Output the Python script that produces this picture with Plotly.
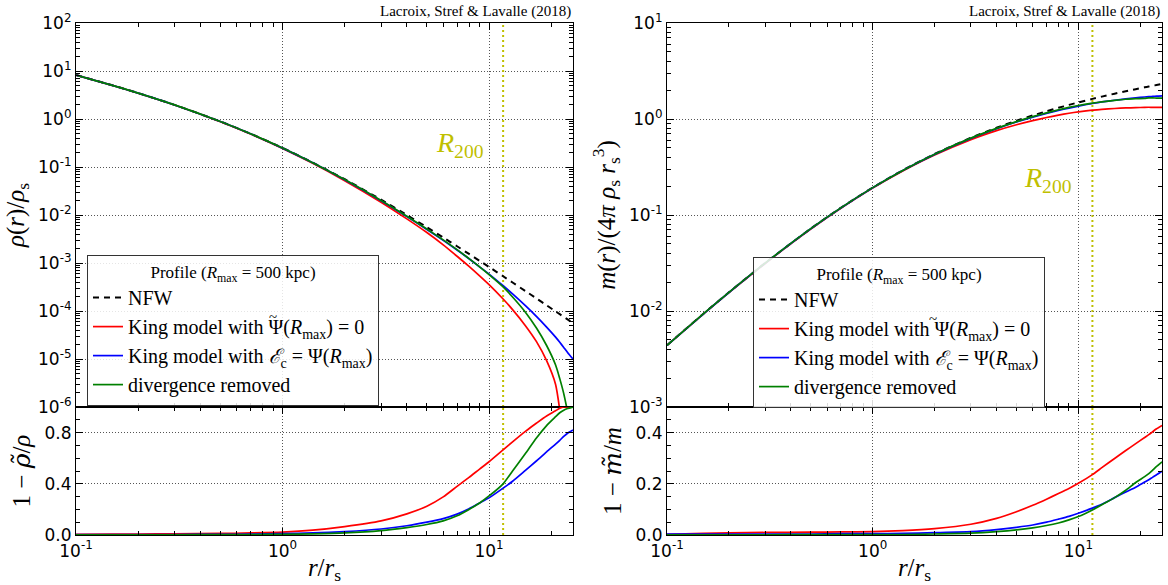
import math
import plotly.graph_objects as go

# ---------------- data ----------------
r = [0.1, 0.15, 0.2, 0.3, 0.5, 0.7, 1.0, 1.4, 2.0, 3.0, 4.0, 5.0, 6.0, 7.0, 8.0, 9.0,
     10.0, 11.7, 13.0, 15.0, 17.0, 19.0, 21.0, 22.0, 23.0, 24.0, 25.5]

rho_nfw = [8.264, 5.041, 3.472, 1.972, 0.8889, 0.4943, 0.25, 0.1240, 0.05556, 0.02083,
           0.01, 0.005556, 0.003401, 0.002232, 0.001543, 0.001111, 0.0008264, 0.0005299,
           0.0003925, 0.0002604, 0.0001816, 0.0001316, 0.0000984, 0.0000859, 0.0000755,
           0.0000667, 0.0000558]
rho_king_psi0 = [8.21, 5.006, 3.444, 1.954, 0.8782, 0.4864, 0.2443, 0.1193, 0.05184, 0.01848,
                 0.0083, 0.004306, 0.002388, 0.001384, 0.000849, 0.000539, 0.0003537,
                 0.0001775, 0.0001068, 0.0000495, 0.0000227, 0.00000921, 0.00000295,
                 0.00000086, None, None, None]
rho_king_ec = [8.239, 5.026, 3.458, 1.964, 0.8845, 0.4908, 0.2475, 0.1220, 0.05406, 0.01985,
               0.00928, 0.005, 0.002966, 0.001868, 0.001227, 0.000833, 0.000587, 0.000336,
               0.0002277, 0.0001289, 0.0000763, 0.0000461, 0.0000285, 0.0000223, 0.0000174,
               0.0000137, 0.0000100]
rho_div_removed = [8.247, 5.031, 3.465, 1.968, 0.8862, 0.4923, 0.2488, 0.1229, 0.05467, 0.02012,
                   0.00942, 0.0051, 0.003027, 0.001897, 0.001234, 0.000833, 0.000574, 0.000318,
                   0.000196, 0.0000945, 0.0000436, 0.0000191, 0.0000075, 0.0000039, 0.0000019,
                   0.0000008, None]

drho_psi0 = [0.006, 0.007, 0.008, 0.009, 0.012, 0.016, 0.023, 0.038, 0.066, 0.11, 0.165, 0.225,
             0.298, 0.38, 0.45, 0.515, 0.572, 0.665, 0.728, 0.81, 0.875, 0.93, 0.97, 0.99, 1.0,
             1.0, 1.0]
drho_ec = [0.003, 0.003, 0.004, 0.004, 0.005, 0.007, 0.01, 0.016, 0.027, 0.047, 0.072, 0.10,
           0.128, 0.163, 0.205, 0.25, 0.29, 0.366, 0.42, 0.505, 0.58, 0.65, 0.71, 0.74, 0.77,
           0.795, 0.82]
drho_div = [0.002, 0.002, 0.002, 0.002, 0.003, 0.004, 0.005, 0.009, 0.016, 0.034, 0.058, 0.082,
            0.11, 0.15, 0.20, 0.25, 0.305, 0.40, 0.50, 0.637, 0.76, 0.855, 0.924, 0.955, 0.975,
            0.988, 1.0]

m_nfw = [0.004401, 0.009331, 0.015656, 0.03159, 0.07213, 0.11886, 0.19315, 0.29214, 0.43195,
         0.63629, 0.80944, 0.95843, 1.08877, 1.20444, 1.30834, 1.40259, 1.48880, 1.62034,
         1.71049, 1.83509, 1.94593, 2.04573, 2.13650, 2.17897, 2.21972, 2.25888, 2.31488]
m_king_psi0 = [0.004388, 0.009275, 0.015531, 0.031274, 0.071337, 0.117434, 0.190639, 0.287174,
               0.421151, 0.609566, 0.756826, 0.871213, 0.962473, 1.035818, 1.096389, 1.147319,
               1.188062, 1.23794, 1.258921, 1.286398, 1.303773, 1.313359, 1.322494, 1.324814,
               1.322953, 1.321445, 1.324111]
m_king_ec = [0.004383, 0.009294, 0.015593, 0.031464, 0.071841, 0.118266, 0.192184, 0.290387,
             0.428063, 0.628018, 0.792442, 0.929677, 1.046308, 1.144218, 1.227223, 1.300201,
             1.362252, 1.450204, 1.505231, 1.567167, 1.619014, 1.663178, 1.694245, 1.708312,
             1.718063, 1.728043, 1.738475]
m_div_removed = [0.004397, 0.009322, 0.01564, 0.031558, 0.072022, 0.118682, 0.19286, 0.291556,
                 0.430222, 0.631836, 0.798917, 0.939261, 1.058284, 1.159876, 1.246848, 1.319837,
                 1.381606, 1.461547, 1.508652, 1.565332, 1.605392, 1.626355, 1.638696, 1.656017,
                 1.655911, 1.6535, 1.652824]

dm_psi0 = [0.003, 0.006, 0.008, 0.010, 0.011, 0.012, 0.013, 0.017, 0.025, 0.042, 0.065, 0.091,
           0.116, 0.140, 0.162, 0.182, 0.202, 0.236, 0.263, 0.299, 0.330, 0.357, 0.381, 0.392,
           0.404, 0.415, 0.428]
dm_ec = [0.004, 0.004, 0.004, 0.004, 0.004, 0.005, 0.005, 0.006, 0.009, 0.013, 0.021, 0.03,
         0.039, 0.05, 0.062, 0.073, 0.085, 0.105, 0.12, 0.146, 0.168, 0.187, 0.207, 0.216, 0.226,
         0.235, 0.249]
dm_div = [0.001, 0.001, 0.001, 0.001, 0.0015, 0.0015, 0.0015, 0.002, 0.004, 0.007, 0.013, 0.02,
          0.028, 0.037, 0.047, 0.059, 0.072, 0.098, 0.118, 0.146, 0.175, 0.205, 0.228, 0.24,
          0.254, 0.268, 0.286]

R200 = 11.7
x_range = (0.1, 25.5)

names = ["NFW",
         "King model with Ψ(<i>R</i><sub>max</sub>) = 0",
         "King model with <i>ℰ</i><sub>c</sub> = Ψ(<i>R</i><sub>max</sub>)",
         "divergence removed"]
colors = ["black", "#ff0000", "#0000ff", "#008000"]

x_ticks = [0.1, 1, 10]
x_ticktext = ["10<sup>-1</sup>", "10<sup>0</sup>", "10<sup>1</sup>"]
rho_ticks = [1e-6, 1e-5, 1e-4, 1e-3, 1e-2, 1e-1, 1, 10, 100]
rho_ticktext = ["10<sup>-6</sup>", "10<sup>-5</sup>", "10<sup>-4</sup>", "10<sup>-3</sup>",
                "10<sup>-2</sup>", "10<sup>-1</sup>", "10<sup>0</sup>", "10<sup>1</sup>",
                "10<sup>2</sup>"]
m_ticks = [1e-3, 1e-2, 1e-1, 1, 10]
m_ticktext = ["10<sup>-3</sup>", "10<sup>-2</sup>", "10<sup>-1</sup>", "10<sup>0</sup>",
              "10<sup>1</sup>"]

# ---------------- figure ----------------
fig = go.Figure()
SERIF = "Liberation Serif"
SANS = "DejaVu Sans"
DJ = '<span style="font-family:DejaVu Serif">'


def add(x, y, color, name, xa, ya, legend=None, dash="solid", width=1.7, show=False,
        shape="spline"):
    fig.add_trace(go.Scatter(
        x=x, y=y, mode="lines", name=name, xaxis=xa, yaxis=ya,
        line=dict(color=color, width=width, dash=dash, shape=shape, smoothing=0.6),
        showlegend=show, legend=legend, connectgaps=False, hoverinfo="skip"))


# R200 lines
for xa, ya, yy in [("x", "y", [1e-6, 1e2]), ("x2", "y2", [0, 1]),
                   ("x3", "y3", [1e-3, 1e1]), ("x4", "y4", [0, 0.5])]:
    add([R200, R200], yy, "#bfbf00", "R200", xa, ya, dash="2px,3px", width=2, shape="linear")

# top left
add(r, rho_nfw, colors[0], names[0], "x", "y", "legend", dash="6px,5px", width=2, show=True)
add(r, rho_king_psi0, colors[1], names[1], "x", "y", "legend", show=True)
add(r, rho_king_ec, colors[2], names[2], "x", "y", "legend", show=True)
add(r, rho_div_removed, colors[3], names[3], "x", "y", "legend", show=True)
# bottom left
add(r, drho_psi0, colors[1], names[1], "x2", "y2")
add(r, drho_ec, colors[2], names[2], "x2", "y2")
add(r, drho_div, colors[3], names[3], "x2", "y2")
# top right
add(r, m_nfw, colors[0], names[0], "x3", "y3", "legend2", dash="6px,5px", width=2, show=True)
add(r, m_king_psi0, colors[1], names[1], "x3", "y3", "legend2", show=True)
add(r, m_king_ec, colors[2], names[2], "x3", "y3", "legend2", show=True)
add(r, m_div_removed, colors[3], names[3], "x3", "y3", "legend2", show=True)
# bottom right
add(r, dm_psi0, colors[1], names[1], "x4", "y4")
add(r, dm_ec, colors[2], names[2], "x4", "y4")
add(r, dm_div, colors[3], names[3], "x4", "y4")

W, H = 1168, 585
ML, MR, MT, MB = 76, 6, 23, 50
pw = W - ML - MR
ph = H - MT - MB
dom_left = [0, (573 - ML) / pw]
dom_right = [(667 - ML) / pw, 1]
dom_top = [0.25, 1]
dom_bot = [0, 0.25]

x_minor = [v * 10 ** e for e in (-1, 0, 1) for v in range(2, 10) if v * 10 ** e <= 25.5]
rho_minor = [v * 10 ** e for e in range(-6, 2) for v in range(2, 10)]
m_minor = [v * 10 ** e for e in range(-3, 1) for v in range(2, 10)]

axis_common = dict(showline=True, linecolor="black", linewidth=1.2, mirror="allticks",
                   ticks="inside", ticklen=7, tickwidth=1, tickcolor="black",
                   showgrid=True, gridcolor="#555", griddash="1px,2px", gridwidth=1,
                   zeroline=False, tickfont=dict(family=SANS, size=17, color="black"))
minor_common = dict(ticks="inside", ticklen=4, tickcolor="black", showgrid=False)
title_font = dict(family=SERIF, size=25, color="black")


def xaxis(domain, anchor, labels):
    d = dict(axis_common, domain=domain, anchor=anchor, type="log",
             range=[math.log10(x_range[0]), math.log10(x_range[1])],
             tickvals=x_ticks, ticktext=x_ticktext, showticklabels=labels,
             minor=dict(minor_common, tickvals=x_minor))
    if labels:
        d["title"] = dict(text="<i>r</i>/<i>r</i><sub>s</sub>", font=title_font, standoff=0)
    return d


def legend_cfg(x, ytop):
    return dict(x=x, y=ytop, xanchor="left", yanchor="top",
                bgcolor="rgba(255,255,255,0.85)", bordercolor="#333", borderwidth=1,
                font=dict(family=SERIF, size=20, color="black"),
                title=dict(text="Profile (<i>R</i><sub>max</sub> = 500 kpc)",
                           side="top center", font=dict(family=SERIF, size=17, color="black")),
                itemwidth=30, tracegroupgap=0)


fig.update_layout(
    width=W, height=H, margin=dict(l=ML, r=MR, t=MT, b=MB),
    paper_bgcolor="white", plot_bgcolor="white",
    xaxis=xaxis(dom_left, "y", False),
    xaxis2=xaxis(dom_left, "y2", True),
    xaxis3=xaxis(dom_right, "y3", False),
    xaxis4=xaxis(dom_right, "y4", True),
    yaxis=dict(axis_common, domain=dom_top, anchor="x", type="log", range=[-6, 2],
               tickvals=rho_ticks, ticktext=rho_ticktext,
               minor=dict(minor_common, tickvals=rho_minor),
               title=dict(text="<i>ρ</i>(<i>r</i>)/<i>ρ</i><sub>s</sub>",
                          font=title_font, standoff=6)),
    yaxis2=dict(axis_common, domain=dom_bot, anchor="x2", range=[0, 1],
                tickvals=[0, 0.4, 0.8], ticktext=["0.0", "0.4", "0.8"],
                minor=dict(minor_common, dtick=0.1),
                title=dict(text="1 − " + DJ + "<i>ρ̃</i></span>/<i>ρ</i>",
                           font=title_font, standoff=6)),
    yaxis3=dict(axis_common, domain=dom_top, anchor="x3", type="log", range=[-3, 1],
                tickvals=m_ticks, ticktext=m_ticktext,
                minor=dict(minor_common, tickvals=m_minor),
                title=dict(text="<i>m</i>(<i>r</i>)/(4<i>π</i> <i>ρ</i><sub>s</sub> "
                                "<i>r</i><sub>s</sub><sup>3</sup>)",
                           font=title_font, standoff=6)),
    yaxis4=dict(axis_common, domain=dom_bot, anchor="x4", range=[0, 0.5],
                tickvals=[0, 0.2, 0.4], ticktext=["0.0", "0.2", "0.4"],
                minor=dict(minor_common, dtick=0.05),
                title=dict(text="1 − " + DJ + "<i>m̃</i></span>/<i>m</i>",
                           font=title_font, standoff=6)),
    legend=legend_cfg((87 - ML) / pw, (H - MB - 255) / ph),
    legend2=legend_cfg((753 - ML) / pw, (H - MB - 257) / ph),
)

credit = "Lacroix, Stref &amp; Lavalle (2018)"


def px_to_paper(px, py):
    return (px - ML) / pw, (H - MB - py) / ph


tl = px_to_paper(267, 317)
tr = px_to_paper(939, 319)
annotations = [
    dict(text=credit, xref="paper", yref="paper", x=dom_left[1], y=1, xanchor="right",
         yanchor="bottom", yshift=1, showarrow=False,
         font=dict(family=SERIF, size=15, color="black")),
    dict(text=credit, xref="paper", yref="paper", x=1, y=1, xanchor="right",
         yanchor="bottom", yshift=1, showarrow=False,
         font=dict(family=SERIF, size=15, color="black")),
    dict(text="<i>R</i><sub>200</sub>", xref="x", yref="y", x=math.log10(7.2), y=-0.54,
         showarrow=False, font=dict(family=SERIF, size=28, color="#bfbf00")),
    dict(text="<i>R</i><sub>200</sub>", xref="x3", yref="y3", x=math.log10(7.1), y=-0.635,
         showarrow=False, font=dict(family=SERIF, size=28, color="#bfbf00")),
    # tilde accent over the Psi of the legend entries
    dict(text="~", xref="paper", yref="paper", x=tl[0], y=tl[1], showarrow=False,
         font=dict(family=SERIF, size=15, color="black")),
    dict(text="~", xref="paper", yref="paper", x=tr[0], y=tr[1], showarrow=False,
         font=dict(family=SERIF, size=15, color="black")),
]
fig.update_layout(annotations=annotations)

fig.write_html("out.html",
               config={"displayModeBar": False},
               post_script="document.body.style.margin='0';"
                           "document.body.style.overflow='hidden';")
